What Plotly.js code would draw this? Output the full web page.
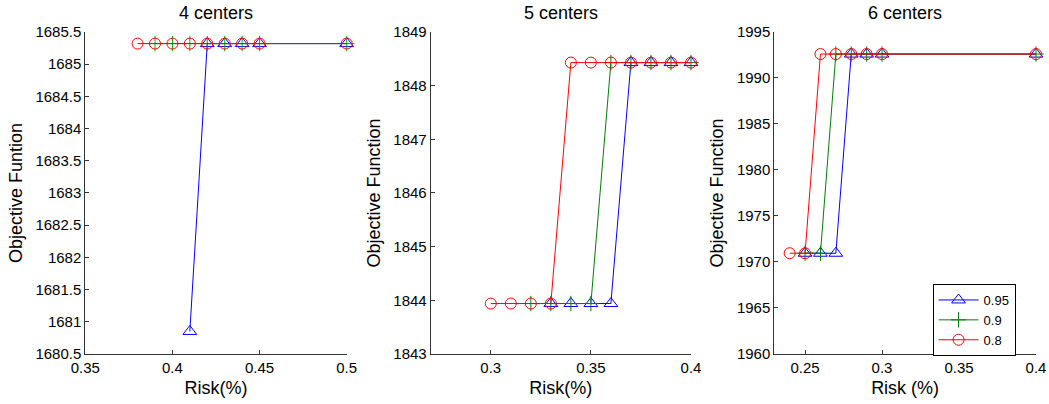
<!DOCTYPE html>
<html>
<head>
<meta charset="utf-8">
<script src="https://cdn.plot.ly/plotly-3.0.1.min.js"></script>
<style>html,body{margin:0;padding:0;background:#fff;}#chart{width:1049px;height:404px;}</style>
</head>
<body>
<div id="chart"></div>
<script>
// ---- data ----
const seriesNames = ['0.95', '0.9', '0.8'];
const panelTitles = ['4 centers', '5 centers', '6 centers'];
const xTitles = ['Risk(%)', 'Risk(%)', 'Risk (%)'];
const yTitles = ['Objective Funtion', 'Objective Function', 'Objective Function'];

// 4 centers
const p1_x095 = [0.41, 0.42, 0.43, 0.44, 0.45, 0.50];
const p1_y095 = [1680.85, 1685.32, 1685.32, 1685.32, 1685.32, 1685.32];
const p1_x09 = [0.39, 0.40, 0.41, 0.42, 0.43, 0.44, 0.45, 0.50];
const p1_y09 = [1685.32, 1685.32, 1685.32, 1685.32, 1685.32, 1685.32, 1685.32, 1685.32];
const p1_x08 = [0.38, 0.39, 0.40, 0.41, 0.42, 0.43, 0.44, 0.45, 0.50];
const p1_y08 = [1685.32, 1685.32, 1685.32, 1685.32, 1685.32, 1685.32, 1685.32, 1685.32, 1685.32];

// 5 centers
const p2_x095 = [0.33, 0.34, 0.35, 0.36, 0.37, 0.38, 0.39, 0.40];
const p2_y095 = [1843.94, 1843.94, 1843.94, 1843.94, 1848.43, 1848.43, 1848.43, 1848.43];
const p2_x09 = [0.32, 0.33, 0.34, 0.35, 0.36, 0.37, 0.38, 0.39, 0.40];
const p2_y09 = [1843.94, 1843.94, 1843.94, 1843.94, 1848.43, 1848.43, 1848.43, 1848.43, 1848.43];
const p2_x08 = [0.30, 0.31, 0.32, 0.33, 0.34, 0.35, 0.36, 0.37, 0.38, 0.39, 0.40];
const p2_y08 = [1843.94, 1843.94, 1843.94, 1843.94, 1848.43, 1848.43, 1848.43, 1848.43, 1848.43, 1848.43, 1848.43];

// 6 centers
const p3_x095 = [0.25, 0.26, 0.27, 0.28, 0.29, 0.30, 0.40];
const p3_y095 = [1970.95, 1970.95, 1970.95, 1992.6, 1992.6, 1992.6, 1992.6];
const p3_x09 = [0.25, 0.26, 0.27, 0.28, 0.29, 0.30, 0.40];
const p3_y09 = [1970.95, 1970.95, 1992.6, 1992.6, 1992.6, 1992.6, 1992.6];
const p3_x08 = [0.24, 0.25, 0.26, 0.27, 0.28, 0.29, 0.30, 0.40];
const p3_y08 = [1970.95, 1970.95, 1992.6, 1992.6, 1992.6, 1992.6, 1992.6, 1992.6];

// axes
const xRanges = [[0.35, 0.5], [0.27, 0.4], [0.23, 0.4]];
const yRanges = [[1680.5, 1685.5], [1843, 1849], [1960, 1995]];
const xTickLabels = [['0.35', '0.4', '0.45', '0.5'], ['0.3', '0.35', '0.4'], ['0.25', '0.3', '0.35', '0.4']];
const yTickLabels = [
  ['1680.5', '1681', '1681.5', '1682', '1682.5', '1683', '1683.5', '1684', '1684.5', '1685', '1685.5'],
  ['1843', '1844', '1845', '1846', '1847', '1848', '1849'],
  ['1960', '1965', '1970', '1975', '1980', '1985', '1990', '1995']
];

// ---- build ----
const FONT = 'Liberation Sans, Arial, Helvetica, sans-serif';
const blue = '#0000ff', red = '#ff0000';
const greens = ['#00b400', '#008000', '#008000'];
const data = [
  [p1_x095, p1_y095, p1_x09, p1_y09, p1_x08, p1_y08],
  [p2_x095, p2_y095, p2_x09, p2_y09, p2_x08, p2_y08],
  [p3_x095, p3_y095, p3_x09, p3_y09, p3_x08, p3_y08]
];
const symbols = ['triangle-up-open', 'cross-thin-open', 'circle-open'];
const sizes = [12, 11, 11];
const traces = [];
data.forEach((d, i) => {
  const xa = i === 0 ? 'x' : 'x' + (i + 1);
  const ya = i === 0 ? 'y' : 'y' + (i + 1);
  const cols = [blue, greens[i], red];
  for (let s = 0; s < 3; s++) {
    traces.push({
      x: d[2 * s], y: d[2 * s + 1], xaxis: xa, yaxis: ya,
      type: 'scatter', mode: 'lines+markers', name: seriesNames[s],
      showlegend: i === 2, cliponaxis: false,
      line: {color: cols[s], width: 1},
      marker: {symbol: symbols[s], size: sizes[s], color: cols[s], line: {color: cols[s], width: 1}}
    });
  }
});

const xDomains = [[0.0813, 0.3305], [0.4106, 0.6587], [0.7381, 0.9876]];
const yDomain = [0.1238, 0.9208];
const layout = {
  width: 1049, height: 404,
  margin: {l: 0, r: 0, t: 0, b: 0},
  paper_bgcolor: '#fff', plot_bgcolor: '#fff',
  font: {family: FONT, size: 15, color: '#000'},
  showlegend: true,
  legend: {x: 0.889, y: 1 - 284 / 404, xanchor: 'left', yanchor: 'top', bordercolor: '#000', borderwidth: 1,
           bgcolor: '#fff', font: {size: 13, family: FONT}, tracegroupgap: 0, itemwidth: 40},
  annotations: []
};
for (let i = 0; i < 3; i++) {
  const k = i === 0 ? '' : String(i + 1);
  layout['xaxis' + k] = {
    domain: xDomains[i], anchor: 'y' + k, range: xRanges[i],
    tickmode: 'array', tickvals: xTickLabels[i].map(Number), ticktext: xTickLabels[i],
    ticks: 'inside', ticklen: 4, tickcolor: '#333', showline: true, linecolor: '#333', linewidth: 1,
    showgrid: false, zeroline: false, tickfont: {size: 15},
    title: {text: xTitles[i], font: {size: 18}, standoff: 6}
  };
  layout['yaxis' + k] = {
    domain: yDomain, anchor: 'x' + k, range: yRanges[i],
    tickmode: 'array', tickvals: yTickLabels[i].map(Number), ticktext: yTickLabels[i],
    ticks: 'inside', ticklen: 4, tickcolor: '#333', showline: true, linecolor: '#333', linewidth: 1,
    showgrid: false, zeroline: false, tickfont: {size: 15},
    title: {text: yTitles[i], font: {size: 18}, standoff: 8}
  };
  layout.annotations.push({
    text: panelTitles[i], xref: 'paper', yref: 'paper',
    x: (xDomains[i][0] + xDomains[i][1]) / 2, y: 1 - 13 / 404,
    xanchor: 'center', yanchor: 'middle', showarrow: false, font: {size: 18}
  });
}
Plotly.newPlot('chart', traces, layout, {displayModeBar: false, staticPlot: true});
</script>
</body>
</html>
